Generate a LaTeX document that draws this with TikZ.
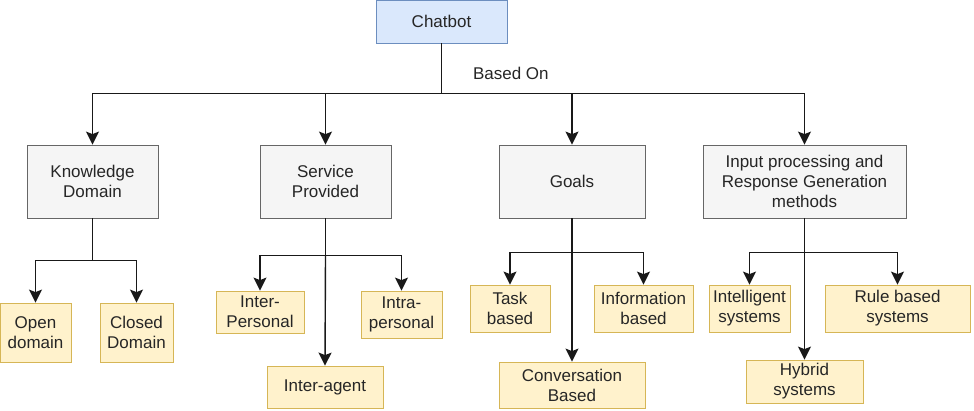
\documentclass[tikz,border=0pt]{standalone}
\usepackage{fontspec}
\setmainfont{Liberation Sans}
\usetikzlibrary{arrows.meta,positioning}

\begin{document}
\begin{tikzpicture}[
    x=1pt, y=-1pt,
    font=\fontsize{17}{20}\selectfont,
    box/.style={draw, line width=0.8pt, align=center, inner sep=0pt, text=black!85},
    root/.style={box, fill=cRoot, draw=cRootB},
    cat/.style={box, fill=cCat, draw=cCatB, minimum height=73pt},
    leaf/.style={box, fill=cLeaf, draw=cLeafB},
    link/.style={line width=1.4pt, black!90},
    arr/.style={link, -{Stealth[length=13pt, width=13pt, inset=2.5pt]}},
  ]
  \definecolor{cRoot}{HTML}{DAE8FC}\definecolor{cRootB}{HTML}{6C8EBF}
  \definecolor{cCat}{HTML}{F5F5F5}\definecolor{cCatB}{HTML}{666666}
  \definecolor{cLeaf}{HTML}{FFF2CC}\definecolor{cLeafB}{HTML}{D6B656}
  \useasboundingbox (0,0) rectangle (974,411);

  % root
  \node[root, minimum width=131pt, minimum height=43pt] (chat) at (441.5,21.5) {Chatbot};

  % categories
  \node[cat, minimum width=131pt] (know) at (92.5,181.5) {Knowledge\\Domain};
  \node[cat, minimum width=131pt] (serv) at (325.5,181.5) {Service\\Provided};
  \node[cat, minimum width=146pt] (goal) at (572,181.5) {Goals};
  \node[cat, minimum width=203pt] (inp) at (804.5,181.5) {Input processing and\\Response Generation\\methods};

  % leaves
  \node[leaf, minimum width=71pt, minimum height=59pt] (open) at (35.5,332.5) {Open\\domain};
  \node[leaf, minimum width=73pt, minimum height=59pt] (closed) at (136.5,332.5) {Closed\\Domain};
  \node[leaf, minimum width=88pt, minimum height=42pt] (interp) at (260,312) {Inter-\\Personal};
  \node[leaf, minimum width=81pt, minimum height=47pt] (intrap) at (401.5,314.5) {Intra-\\personal};
  \node[leaf, minimum width=116pt, minimum height=42pt] (interag) at (325,387) {Inter-agent};
  \node[leaf, minimum width=80pt, minimum height=47pt] (task) at (510,308.5) {Task\\based};
  \node[leaf, minimum width=99pt, minimum height=47pt] (info) at (643.5,308.5) {Information\\based};
  \node[leaf, minimum width=146pt, minimum height=46pt] (conv) at (572,385) {Conversation\\Based};
  \node[leaf, minimum width=81pt, minimum height=47pt] (intel) at (749.5,308.5) {Intelligent\\systems};
  \node[leaf, minimum width=145pt, minimum height=47pt] (rule) at (897.5,308.5) {Rule based\\systems};
  \node[leaf, minimum width=117pt, minimum height=43pt] (hyb) at (804.5,381.5) {Hybrid\\systems};

  % top level
  \draw[link] (chat.south) -- ++(0,50) coordinate (hub);
  \node[right=28pt of hub, yshift=20pt, text=black!85] (based) {Based On};
  \foreach \n in {know,serv,goal,inp}
    \draw[arr] (hub) -| (\n.north);

  % knowledge domain
  \draw[link] (know.south) -- ++(0,42) coordinate (kj);
  \draw[arr] (kj) -| (open.north);
  \draw[arr] (kj) -| (closed.north);

  % service provided
  \draw[link] (serv.south) -- ++(0,37) coordinate (sj);
  \draw[arr] (sj) -- (interag.north);
  \draw[arr] (sj) -| (interp.north);
  \draw[arr] (sj) -| (intrap.north);

  % goals
  \draw[link] (goal.south) -- ++(0,34) coordinate (gj);
  \draw[arr] (gj) -- (conv.north);
  \draw[arr] (gj) -| (task.north);
  \draw[arr] (gj) -| (info.north);

  % input processing
  \draw[link] (inp.south) -- ++(0,34) coordinate (ij);
  \draw[arr] (ij) -- (hyb.north);
  \draw[arr] (ij) -| (intel.north);
  \draw[arr] (ij) -| (rule.north);
\end{tikzpicture}
\end{document}
